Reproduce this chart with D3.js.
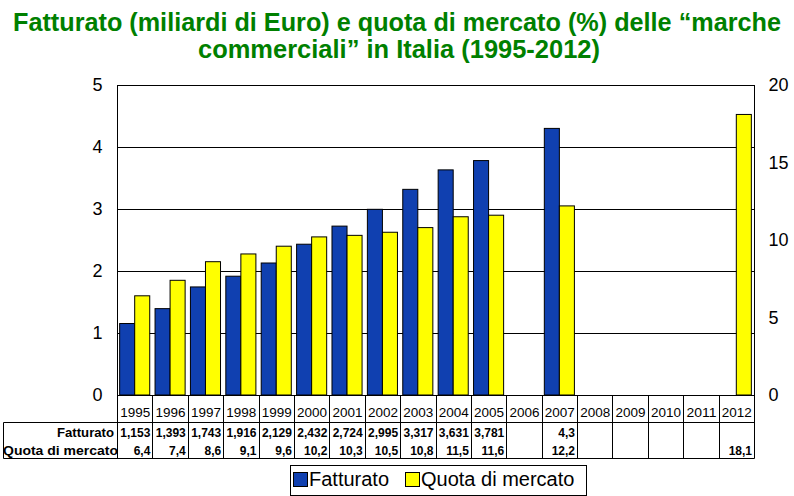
<!DOCTYPE html>
<html>
<head>
<meta charset="utf-8">
<script src="https://cdn.jsdelivr.net/npm/d3@7"></script>
<style>
  body { margin: 0; background: #fff; }
  svg { display: block; }
</style>
</head>
<body>
<div class="svg-container"></div>
<script>
const w = 794;
const h = 496;

// data
const years = ['1995', '1996', '1997', '1998', '1999', '2000', '2001', '2002', '2003',
	'2004', '2005', '2006', '2007', '2008', '2009', '2010', '2011', '2012'];
const fatturato = [1.153, 1.393, 1.743, 1.916, 2.129, 2.432, 2.724, 2.995, 3.317,
	3.631, 3.781, null, 4.3, null, null, null, null, null];
const quota = [6.4, 7.4, 8.6, 9.1, 9.6, 10.2, 10.3, 10.5, 10.8,
	11.5, 11.6, null, 12.2, null, null, null, null, 18.1];
const fatturatoLabels = ['1,153', '1,393', '1,743', '1,916', '2,129', '2,432', '2,724', '2,995', '3,317',
	'3,631', '3,781', '', '4,3', '', '', '', '', ''];
const quotaLabels = ['6,4', '7,4', '8,6', '9,1', '9,6', '10,2', '10,3', '10,5', '10,8',
	'11,5', '11,6', '', '12,2', '', '', '', '', '18,1'];
const leftTicks = [0, 1, 2, 3, 4, 5];
const rightTicks = [0, 5, 10, 15, 20];
const seriesNames = ['Fatturato', 'Quota di mercato'];

const blue = '#1040b0';
const yellow = '#ffff00';
const font = '"Liberation Sans", Arial, sans-serif';

const plot = { left: 117, right: 754, top: 85, bottom: 395 };

const svg = d3
	.select('.svg-container')
	.append('svg')
	.attr('width', w)
	.attr('height', h)
	.style('font-family', font);

// title
const title = svg
	.append('g')
	.attr('fill', '#008000')
	.style('font-family', '"Liberation Sans Narrow", "Arial Narrow", "Liberation Sans", sans-serif')
	.style('font-weight', 'bold')
	.style('font-size', '25px');

title
	.append('text')
	.attr('x', 13)
	.attr('y', 31)
	.attr('textLength', 768)
	.attr('lengthAdjust', 'spacingAndGlyphs')
	.text('Fatturato (miliardi di Euro) e quota di mercato (%) delle \u201cmarche');

title
	.append('text')
	.attr('x', 198)
	.attr('y', 58)
	.attr('textLength', 402)
	.attr('lengthAdjust', 'spacingAndGlyphs')
	.text('commerciali\u201d in Italia (1995-2012)');

// scales
const x = d3
	.scaleBand()
	.domain(years)
	.range([plot.left, plot.right])
	.paddingInner(0.15)
	.paddingOuter(0.075);

const step = x.step();
const cellLeft = y => plot.left + years.indexOf(y) * step;

const xSeries = d3
	.scaleBand()
	.domain(seriesNames)
	.range([0, x.bandwidth()]);

const yLeft = d3.scaleLinear().domain([0, 5]).range([plot.bottom, plot.top]);
const yRight = d3.scaleLinear().domain([0, 20]).range([plot.bottom, plot.top]);

// gridlines
svg
	.append('g')
	.selectAll('line')
	.data(leftTicks)
	.enter()
	.append('line')
	.attr('x1', plot.left)
	.attr('x2', plot.right)
	.attr('y1', d => Math.round(yLeft(d)) + 0.5)
	.attr('y2', d => Math.round(yLeft(d)) + 0.5)
	.attr('stroke', '#000');

// bars
const groups = svg
	.append('g')
	.selectAll('g')
	.data(years)
	.enter()
	.append('g')
	.attr('transform', d => `translate(${x(d)},0)`);

groups
	.filter((d, i) => fatturato[i] != null)
	.append('rect')
	.attr('x', xSeries('Fatturato'))
	.attr('width', xSeries.bandwidth())
	.attr('y', d => yLeft(fatturato[years.indexOf(d)]))
	.attr('height', d => plot.bottom - yLeft(fatturato[years.indexOf(d)]))
	.attr('fill', blue)
	.attr('stroke', '#000')
	.attr('stroke-width', 1);

groups
	.filter((d, i) => quota[i] != null)
	.append('rect')
	.attr('x', xSeries('Quota di mercato'))
	.attr('width', xSeries.bandwidth())
	.attr('y', d => yRight(quota[years.indexOf(d)]))
	.attr('height', d => plot.bottom - yRight(quota[years.indexOf(d)]))
	.attr('fill', yellow)
	.attr('stroke', '#000')
	.attr('stroke-width', 1);

// axes
const leftAxis = svg
	.append('g')
	.attr('transform', `translate(${plot.left + 0.5},0)`)
	.call(d3.axisLeft(yLeft).tickValues(leftTicks).tickSize(0).tickPadding(15).tickFormat(d3.format('d')));

const rightAxis = svg
	.append('g')
	.attr('transform', `translate(${plot.right + 0.5},0)`)
	.call(d3.axisRight(yRight).tickValues(rightTicks).tickSize(0).tickPadding(14).tickFormat(d3.format('d')));

[leftAxis, rightAxis].forEach(a => {
	a.select('.domain').attr('stroke', '#000').attr('d', `M0,${plot.top}V${plot.bottom}`);
	a.selectAll('text')
		.style('font-size', '18px')
		.style('font-family', font)
		.attr('fill', '#000');
});

// data table
const table = svg.append('g').attr('stroke', '#000').attr('stroke-width', 1);
const tableLeft = 3.5;
const rowTop = 422.5;
const tableBottom = 458.5;

table.append('line')
	.attr('x1', tableLeft).attr('x2', plot.right + 0.5)
	.attr('y1', rowTop).attr('y2', rowTop);
table.append('line')
	.attr('x1', tableLeft).attr('x2', plot.right + 0.5)
	.attr('y1', tableBottom).attr('y2', tableBottom);
table.append('line')
	.attr('x1', tableLeft).attr('x2', tableLeft)
	.attr('y1', rowTop).attr('y2', tableBottom);

const bounds = years.map(cellLeft).concat([plot.right]);
table
	.selectAll('line.sep')
	.data(bounds)
	.enter()
	.append('line')
	.attr('class', 'sep')
	.attr('x1', d => Math.round(d) + 0.5)
	.attr('x2', d => Math.round(d) + 0.5)
	.attr('y1', plot.bottom)
	.attr('y2', tableBottom);

// year labels
svg
	.append('g')
	.selectAll('text')
	.data(years)
	.enter()
	.append('text')
	.attr('x', d => cellLeft(d) + step / 2 + 0.5)
	.attr('y', 417)
	.attr('text-anchor', 'middle')
	.attr('textLength', 30)
	.attr('lengthAdjust', 'spacingAndGlyphs')
	.style('font-size', '13px')
	.style('font-family', font)
	.attr('fill', '#000')
	.text(d => d);

// row labels
svg.append('text')
	.attr('x', 57)
	.attr('y', 437)
	.attr('textLength', 57)
	.attr('lengthAdjust', 'spacingAndGlyphs')
	.style('font-family', font)
	.style('font-weight', 'bold')
	.style('font-size', '12px')
	.text('Fatturato');

svg.append('text')
	.attr('x', 3)
	.attr('y', 455)
	.attr('textLength', 115)
	.attr('lengthAdjust', 'spacingAndGlyphs')
	.style('font-family', font)
	.style('font-weight', 'bold')
	.style('font-size', '12px')
	.text('Quota di mercato');

const rows = [
	{ labels: fatturatoLabels, y: 437 },
	{ labels: quotaLabels, y: 455 },
];

rows.forEach(r => {
	svg
		.append('g')
		.selectAll('text')
		.data(years)
		.enter()
		.append('text')
		.attr('x', d => cellLeft(d) + step - 2)
		.attr('y', r.y)
		.attr('text-anchor', 'end')
		.style('font-family', font)
		.style('font-weight', 'bold')
		.style('font-size', '12px')
		.text((d, i) => r.labels[i]);
});

// legend
const legend = svg.append('g').attr('id', 'legend');

legend
	.append('rect')
	.attr('x', 290.5)
	.attr('y', 465.5)
	.attr('width', 296)
	.attr('height', 30)
	.attr('fill', '#fff')
	.attr('stroke', '#000');

const legendItems = [
	{ name: seriesNames[0], color: blue, x: 293 },
	{ name: seriesNames[1], color: yellow, x: 405 },
];

const item = legend
	.selectAll('g.item')
	.data(legendItems)
	.enter()
	.append('g')
	.attr('class', 'item')
	.attr('transform', d => `translate(${d.x},472)`);

item
	.append('rect')
	.attr('x', 0.5)
	.attr('y', 0.5)
	.attr('width', 14)
	.attr('height', 14)
	.attr('fill', d => d.color)
	.attr('stroke', '#000');

item
	.append('text')
	.attr('x', 16)
	.attr('y', 14)
	.style('font-size', '20px')
	.style('font-family', font)
	.text(d => d.name);
</script>
</body>
</html>
